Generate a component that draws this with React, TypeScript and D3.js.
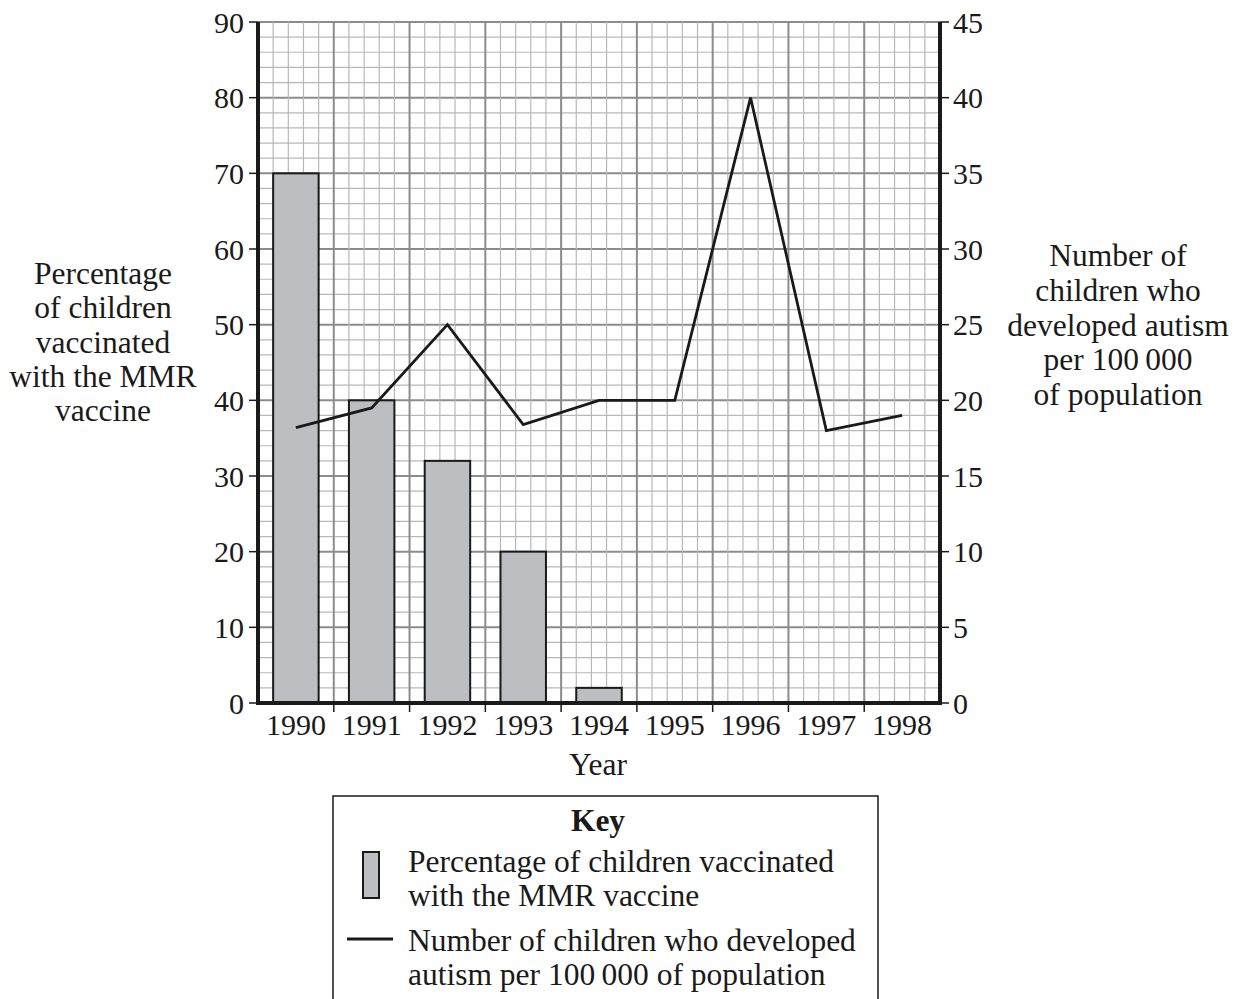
import * as React from "react"
import * as d3 from "d3"

const years = ["1990", "1991", "1992", "1993", "1994", "1995", "1996", "1997", "1998"]
const vaccinated = [70, 40, 32, 20, 2, 0, 0, 0, 0]
const autism = [18.2, 19.5, 25, 18.4, 20, 20, 40, 18, 19]
const leftTicks = [0, 10, 20, 30, 40, 50, 60, 70, 80, 90]
const rightTicks = [0, 5, 10, 15, 20, 25, 30, 35, 40, 45]
const leftTitle = ["Percentage", "of children", "vaccinated", "with the MMR", "vaccine"]
const rightTitle = ["Number of", "children who", "developed autism", "per 100\u2009000", "of population"]

const FONT = "'Liberation Serif', 'Times New Roman', serif"
const TXT = 31.5
const NUM = 30

export default function App() {
    const [w, h] = [1239, 999]
    const m = { left: 258, right: 940, top: 22, bottom: 703 }

    const x = d3.scaleBand().domain(years).range([m.left, m.right]).paddingInner(0).paddingOuter(0)
    const yL = d3.scaleLinear().domain([0, 90]).range([m.bottom, m.top])
    const yR = d3.scaleLinear().domain([0, 45]).range([m.bottom, m.top])
    const bw = x.bandwidth()
    const barW = bw * 0.6

    const minorH = d3.range(0, 91, 2)
    const minorV = d3.range(0, years.length * 5 + 1).map(i => m.left + (i * bw) / 5)

    const line = d3.line<number>()
        .x((_, i) => (x(years[i]) ?? 0) + bw / 2)
        .y(d => yR(d))

    return (
        <svg width={w} height={h} style={{ position: "absolute", left: 0, top: 0 }} fontFamily={FONT}>
            <rect x={0} y={0} width={w} height={h} fill="white" />
            <g>
                {minorH.map((d, i) => (
                    <line key={"mh" + i} x1={m.left} x2={m.right} y1={yL(d)} y2={yL(d)}
                        stroke={d % 10 === 0 ? "#8c8c8c" : "#b8b8b8"} strokeWidth={d % 10 === 0 ? 2 : 1.2} />
                ))}
                {minorV.map((xv, i) => (
                    <line key={"mv" + i} x1={xv} x2={xv} y1={m.top} y2={m.bottom}
                        stroke={i % 5 === 0 ? "#8c8c8c" : "#b8b8b8"} strokeWidth={i % 5 === 0 ? 2 : 1.2} />
                ))}
            </g>
            {years.map((yr, i) => vaccinated[i] > 0 ? (
                <rect key={yr} x={(x(yr) ?? 0) + (bw - barW) / 2} y={yL(vaccinated[i])}
                    width={barW} height={yL(0) - yL(vaccinated[i])}
                    fill="#bdbec2" stroke="#1a1a1a" strokeWidth={2} />
            ) : null)}
            <path d={line(autism) ?? ""} fill="none" stroke="#1a1a1a" strokeWidth={2.8} strokeLinejoin="miter" />

            <line x1={m.left} x2={m.left} y1={m.top} y2={m.bottom + 2} stroke="#1a1a1a" strokeWidth={4} />
            <line x1={m.right} x2={m.right} y1={m.top} y2={m.bottom + 2} stroke="#1a1a1a" strokeWidth={4} />
            <line x1={m.left - 2} x2={m.right + 2} y1={m.bottom} y2={m.bottom} stroke="#1a1a1a" strokeWidth={4} />

            {leftTicks.map(t => (
                <g key={"l" + t}>
                    <line x1={m.left - 9} x2={m.left} y1={yL(t)} y2={yL(t)} stroke="#1a1a1a" strokeWidth={1.5} />
                    <text x={m.left - 14} y={yL(t)} dy="0.35em" textAnchor="end" fontSize={NUM} fill="#1a1a1a">{t}</text>
                </g>
            ))}
            {rightTicks.map(t => (
                <g key={"r" + t}>
                    <line x1={m.right} x2={m.right + 9} y1={yR(t)} y2={yR(t)} stroke="#1a1a1a" strokeWidth={1.5} />
                    <text x={m.right + 13} y={yR(t)} dy="0.35em" textAnchor="start" fontSize={NUM} fill="#1a1a1a">{t}</text>
                </g>
            ))}
            {d3.range(1, years.length).map(i => (
                <line key={"xt" + i} x1={m.left + i * bw} x2={m.left + i * bw} y1={m.bottom} y2={m.bottom + 9}
                    stroke="#1a1a1a" strokeWidth={1.5} />
            ))}
            {years.map(yr => (
                <text key={"xl" + yr} x={(x(yr) ?? 0) + bw / 2} y={735} textAnchor="middle" fontSize={NUM} fill="#1a1a1a">{yr}</text>
            ))}
            <text x={598} y={775} textAnchor="middle" fontSize={TXT} fill="#1a1a1a">Year</text>

            {leftTitle.map((s, i) => (
                <text key={"lt" + i} x={103} y={284 + i * 34.3} textAnchor="middle" fontSize={TXT} fill="#1a1a1a">{s}</text>
            ))}
            {rightTitle.map((s, i) => (
                <text key={"rt" + i} x={1118} y={266 + i * 34.8} textAnchor="middle" fontSize={TXT} fill="#1a1a1a">{s}</text>
            ))}

            <g>
                <polyline points="333,999 333,796 878,796 878,999" fill="none" stroke="#1a1a1a" strokeWidth={1.5} />
                <text x={598} y={831} textAnchor="middle" fontSize={TXT} fontWeight="bold" fill="#1a1a1a">Key</text>
                <rect x={363} y={852} width={16} height={46} fill="#bdbec2" stroke="#1a1a1a" strokeWidth={2} />
                <text x={408} y={872} fontSize={TXT} fill="#1a1a1a">Percentage of children vaccinated</text>
                <text x={408} y={906} fontSize={TXT} fill="#1a1a1a">with the MMR vaccine</text>
                <line x1={347} x2={393} y1={939} y2={939} stroke="#1a1a1a" strokeWidth={2.8} />
                <text x={408} y={951} fontSize={TXT} fill="#1a1a1a">Number of children who developed</text>
                <text x={408} y={985} fontSize={TXT} fill="#1a1a1a">autism per 100{"\u2009"}000 of population</text>
            </g>
        </svg>
    )
}
